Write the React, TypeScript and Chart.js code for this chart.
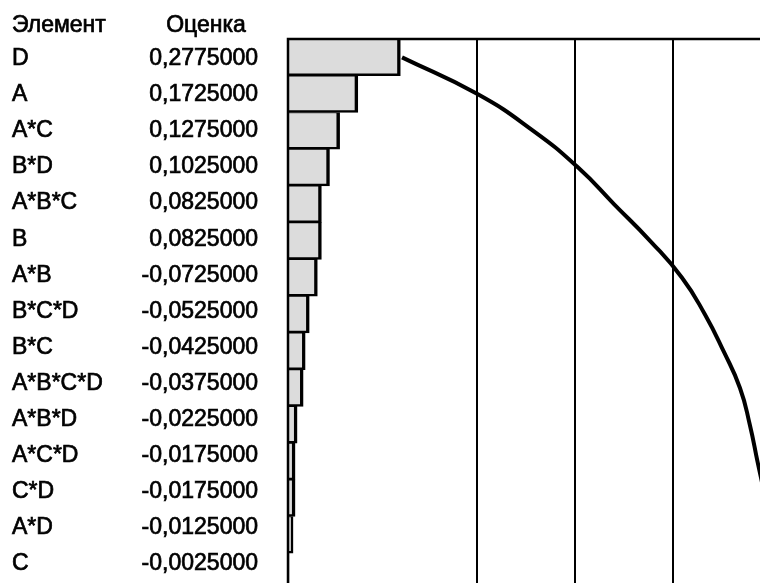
import React, { useEffect, useRef } from 'react';
import { Chart, registerables } from 'chart.js';

Chart.register(...registerables);

// Effect terms, ordered by absolute size of the estimate
const terms = ['D', 'A', 'A*C', 'B*D', 'A*B*C', 'B', 'A*B', 'B*C*D', 'B*C', 'A*B*C*D', 'A*B*D', 'A*C*D', 'C*D', 'A*D', 'C'];
const estimates = [0.2775, 0.1725, 0.1275, 0.1025, 0.0825, 0.0825, -0.0725, -0.0525, -0.0425, -0.0375, -0.0225, -0.0175, -0.0175, -0.0125, -0.0025];
const headerTerm = 'Элемент';
const headerEstimate = 'Оценка';
// Vertical reference lines on the cumulative scale, in percent
const gridPercents = [40, 60, 80, 100];

const absEstimates = estimates.map((v) => Math.abs(v));
const totalAbs = absEstimates.reduce((s, v) => s + v, 0);
const cumulativePercent: number[] = [];
absEstimates.reduce((s, v) => {
  const next = s + v;
  cumulativePercent.push((next / totalAbs) * 100);
  return next;
}, 0);

const formatEstimate = (v: number) => v.toFixed(7).replace('.', ',');

const CANVAS_W = 782;
const CANVAS_H = 590;
const FONT = '23px "Liberation Sans", Arial, Helvetica, sans-serif';
// table text layout
const TERM_X = 12;
const ESTIMATE_RIGHT_X = 258;
const ESTIMATE_HEADER_X = 206;
const HEADER_BASELINE = 32;
const FIRST_ROW_BASELINE = 65;
const ROW_PITCH = 36.1;

const drawText = (ctx: CanvasRenderingContext2D, text: string, x: number, y: number) => {
  ctx.fillText(text, x, y);
  ctx.strokeText(text, x, y);
};

const tablePlugin = {
  id: 'effectTable',
  beforeDatasetsDraw(chart: any) {
    const { ctx, chartArea } = chart;
    const xc = chart.scales.xCum;
    ctx.save();
    ctx.strokeStyle = '#000';
    ctx.lineWidth = 2;
    gridPercents.forEach((p) => {
      const x = Math.round(xc.getPixelForValue(p));
      ctx.beginPath();
      ctx.moveTo(x, chartArea.top);
      ctx.lineTo(x, chartArea.bottom);
      ctx.stroke();
    });
    ctx.restore();
  },
  afterDraw(chart: any) {
    const { ctx, chartArea } = chart;
    ctx.save();
    // plot frame
    ctx.strokeStyle = '#000';
    ctx.lineWidth = 2.5;
    ctx.beginPath();
    ctx.moveTo(chartArea.right, chartArea.top);
    ctx.lineTo(chartArea.left, chartArea.top);
    ctx.lineTo(chartArea.left, chartArea.bottom);
    ctx.stroke();

    // table of terms and estimates
    ctx.fillStyle = '#000';
    ctx.strokeStyle = '#000';
    ctx.lineWidth = 0.7;
    ctx.font = FONT;
    ctx.textBaseline = 'alphabetic';
    ctx.textAlign = 'left';
    drawText(ctx, headerTerm, TERM_X, HEADER_BASELINE);
    ctx.textAlign = 'center';
    drawText(ctx, headerEstimate, ESTIMATE_HEADER_X, HEADER_BASELINE);
    terms.forEach((t, i) => {
      const y = FIRST_ROW_BASELINE + i * ROW_PITCH;
      ctx.textAlign = 'left';
      drawText(ctx, t, TERM_X, y);
      ctx.textAlign = 'right';
      drawText(ctx, formatEstimate(estimates[i]), ESTIMATE_RIGHT_X, y);
    });
    ctx.restore();
  },
};

export default function App() {
  const canvasRef = useRef<HTMLCanvasElement | null>(null);

  useEffect(() => {
    document.body.style.margin = '0';
    const canvas = canvasRef.current;
    if (!canvas) return;
    const chart = new Chart(canvas, {
      type: 'bar',
      data: {
        labels: terms,
        datasets: [
          {
            type: 'line',
            data: cumulativePercent,
            xAxisID: 'xCum',
            yAxisID: 'y',
            borderColor: '#000',
            borderWidth: 4,
            pointRadius: 0,
            tension: 0.5,
            fill: false,
            order: 0,
          } as any,
          {
            type: 'bar',
            data: absEstimates,
            xAxisID: 'xBar',
            yAxisID: 'y',
            backgroundColor: '#dcdcdc',
            borderColor: '#000',
            borderWidth: { top: 1, right: 3.5, bottom: 2.5, left: 0 },
            borderSkipped: false,
            barPercentage: 1,
            categoryPercentage: 1,
            order: 1,
          } as any,
        ],
      },
      options: {
        indexAxis: 'y',
        responsive: false,
        animation: false,
        devicePixelRatio: 1,
        layout: { padding: { left: 288, top: 39, right: 0, bottom: 0 } },
        plugins: { legend: { display: false }, tooltip: { enabled: false } },
        scales: {
          y: { type: 'category', display: false, offset: true },
          xBar: { type: 'linear', axis: 'x', display: false, min: 0, max: 1.22 },
          xCum: { type: 'linear', axis: 'x', display: false, min: 1.5, max: 102.1 },
        },
      } as any,
      plugins: [tablePlugin],
    });
    return () => chart.destroy();
  }, []);

  return (
    <div style={{ width: 760, height: 583, overflow: 'hidden', position: 'relative', background: '#fff' }}>
      <canvas ref={canvasRef} width={CANVAS_W} height={CANVAS_H} style={{ width: CANVAS_W, height: CANVAS_H, display: 'block' }} />
    </div>
  );
}
